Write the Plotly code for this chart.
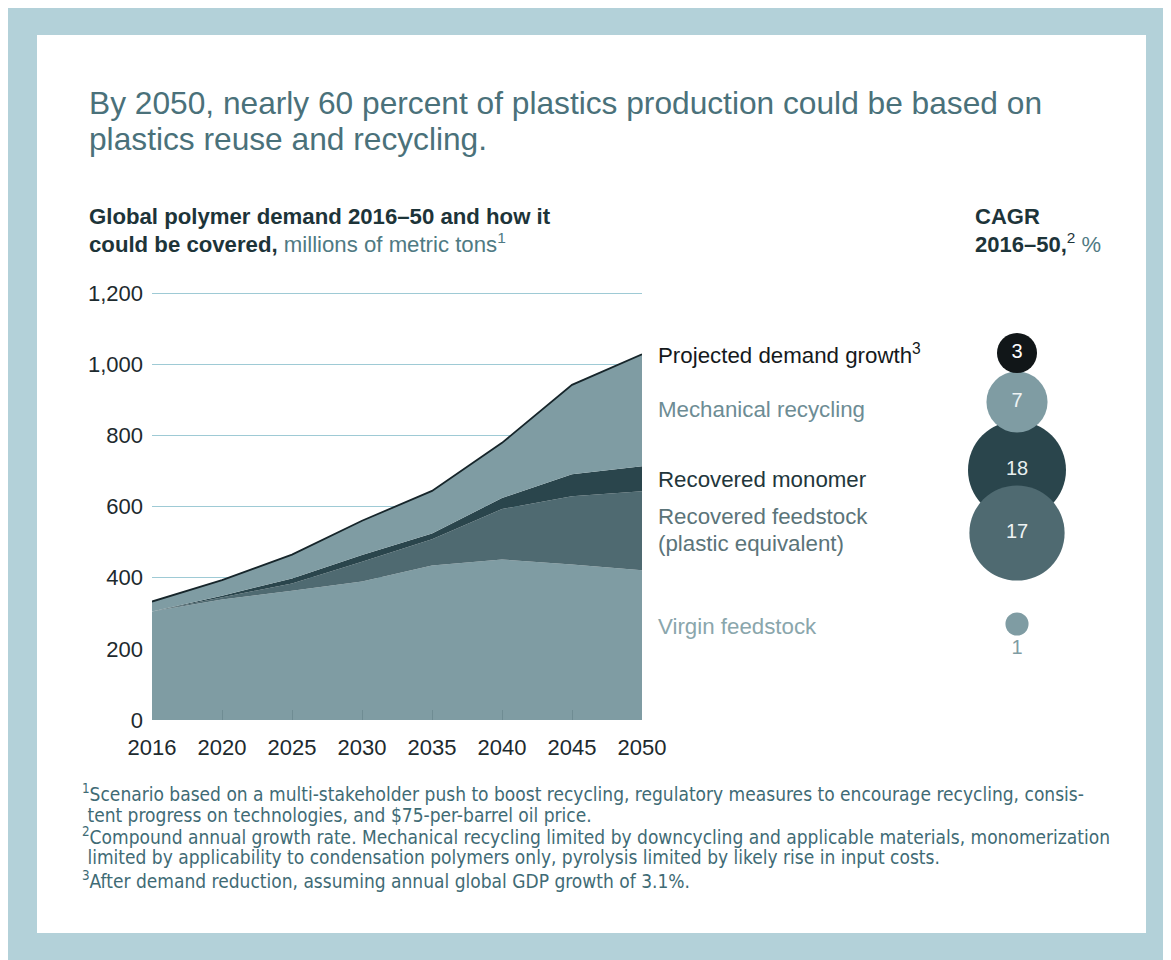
import plotly.graph_objects as go

# ---------------- data ----------------
years = ["2016", "2020", "2025", "2030", "2035", "2040", "2045", "2050"]
virgin_feedstock = [305, 339, 363, 389, 434, 451, 437, 421]
recovered_feedstock = [0, 5, 21, 56, 74, 142, 192, 222]
recovered_monomer = [0, 5, 14, 19, 16, 31, 62, 70]
mechanical_recycling = [28, 44, 67, 96, 120, 155, 251, 315]

cagr_labels = ["Projected demand growth<sup>3</sup>", "Mechanical recycling", "Recovered monomer",
               "Recovered feedstock", "Virgin feedstock"]
cagr_values = [3, 7, 18, 17, 1]
y_ticks = [0, 200, 400, 600, 800, 1000, 1200]

title_lines = ["By 2050, nearly 60 percent of plastics production could be based on",
               "plastics reuse and recycling."]
footnotes = [
    "<sup>1</sup>Scenario based on a multi-stakeholder push to boost recycling, regulatory measures to encourage recycling, consis-",
    " tent progress on technologies, and $75-per-barrel oil price.",
    "<sup>2</sup>Compound annual growth rate. Mechanical recycling limited by downcycling and applicable materials, monomerization",
    " limited by applicability to condensation polymers only, pyrolysis limited by likely rise in input costs.",
    "<sup>3</sup>After demand reduction, assuming annual global GDP growth of 3.1%.",
]

# ---------------- styling ----------------
W, H = 1171, 960
OFF = 8  # page body margin
C_LIGHT = "#7f9ca3"
C_MID = "#4f6a71"
C_DARK = "#2a454c"
C_BLACK = "#111618"
FONT = "Liberation Sans, Arial, sans-serif"
NARROW = "Liberation Sans Narrow, Arial Narrow, DejaVu Sans Condensed, sans-serif"

def px(x):
    return (x - OFF) / W

def py(y):
    return 1 - (y - OFF) / H

total = [a + b + c + d for a, b, c, d in zip(virgin_feedstock, recovered_feedstock,
                                             recovered_monomer, mechanical_recycling)]

fig = go.Figure()
for name, vals, col in [("Virgin feedstock", virgin_feedstock, C_LIGHT),
                        ("Recovered feedstock", recovered_feedstock, C_MID),
                        ("Recovered monomer", recovered_monomer, C_DARK),
                        ("Mechanical recycling", mechanical_recycling, C_LIGHT)]:
    fig.add_trace(go.Scatter(x=years, y=vals, stackgroup="one", mode="lines",
                             line=dict(width=0, color=col), fillcolor=col, name=name,
                             showlegend=False, hoverinfo="skip"))
fig.add_trace(go.Scatter(x=years, y=total, mode="lines", line=dict(color="#16252a", width=1.8),
                         showlegend=False, hoverinfo="skip"))

# bubbles (CAGR) on a full-figure pixel-coordinate subplot
bubble_x = 1017
bubble_y = [353, 402, 470, 533, 624]
label_colors = ["#15191b", "#6d8c94", "#22363b", "#5b7479", "#8aa6ac"]
bubble_colors = [C_BLACK, C_LIGHT, C_DARK, C_MID, C_LIGHT]
text_colors = ["#ffffff", "#eef3f4", "#e8eff0", "#eef3f4", C_LIGHT]
draw_order = [2, 3, 1, 0, 4]
fig.add_trace(go.Scatter(
    x=[bubble_x] * len(draw_order),
    y=[bubble_y[i] for i in draw_order],
    mode="markers+text",
    marker=dict(size=[cagr_values[i] for i in draw_order], sizemode="area",
                sizeref=2 / 23.1 ** 2, color=[bubble_colors[i] for i in draw_order],
                line=dict(width=0), opacity=1),
    text=[str(cagr_values[i]) for i in draw_order],
    textposition=["middle center"] * 4 + ["bottom center"],
    textfont=dict(family=FONT, size=20, color=[text_colors[i] for i in draw_order]),
    xaxis="x2", yaxis="y2", showlegend=False, hoverinfo="skip", cliponaxis=False))

annotations = []

def txt(text, x, y, size, color, family=FONT):
    annotations.append(dict(text=text, x=px(x), y=py(y), xref="paper", yref="paper",
                            xanchor="left", yanchor="middle", showarrow=False, align="left",
                            font=dict(family=family, size=size, color=color)))

label_y = [354, 409, 479, 517, 626]
for lab, yy, col in zip(cagr_labels, label_y, label_colors):
    txt(lab, 656, yy, 22.3, col)
txt("(plastic equivalent)", 656, 543, 22.3, label_colors[3])

for line, yy in zip(title_lines, [103, 139]):
    txt(line, 87, yy, 31.7, "#4a717a")

txt("<b>Global polymer demand 2016–50 and how it</b>", 87, 216, 22.2, "#1d3439")
txt("<b>could be covered,</b> <span style='color:#4f7a83'>millions of metric tons<sup>1</sup></span>",
    87, 243, 22.2, "#1d3439")
txt("<b>CAGR</b>", 973, 216, 22, "#1d3439")
txt("<b>2016–50,</b><sup>2</sup><span style='color:#4f7a83'> %</span>", 973, 243, 22, "#1d3439")

for line, yy in zip(footnotes, [793, 815, 836, 857, 880]):
    txt(line, 80, yy, 19, "#3f6b75", NARROW)

shapes = [
    dict(type="rect", xref="paper", yref="paper", x0=px(37), x1=px(1146), y0=py(933), y1=py(35),
         fillcolor="#ffffff", line=dict(width=0), layer="below"),
]

fig.update_layout(
    width=W, height=H, margin=dict(l=0, r=0, t=0, b=0, autoexpand=False),
    paper_bgcolor="#b3d1d9", plot_bgcolor="rgba(0,0,0,0)",
    shapes=shapes, annotations=annotations,
    xaxis=dict(domain=[px(152), px(642)], type="category", range=[0, len(years) - 1],
               showgrid=False, zeroline=False, showline=False, automargin=False,
               ticks="inside", ticklen=10, tickcolor="#6f8c93", tickwidth=1,
               tickfont=dict(family=FONT, size=22, color="#1d2a2e"), ticklabelstandoff=12),
    yaxis=dict(domain=[py(720), py(292)], range=[0, 1203], tickvals=y_ticks, tickformat=",",
               showgrid=True, gridcolor="#9ecad5", gridwidth=1, zeroline=False, showline=False,
               automargin=False,
               tickfont=dict(family=FONT, size=22, color="#1d2a2e"), ticks="", ticklabelstandoff=8),
    xaxis2=dict(domain=[0, 1], range=[OFF, W + OFF], visible=False, anchor="y2", fixedrange=True,
                automargin=False),
    yaxis2=dict(domain=[0, 1], range=[H + OFF, OFF], visible=False, anchor="x2", fixedrange=True,
                automargin=False),
)

fig.write_html("out.html")
